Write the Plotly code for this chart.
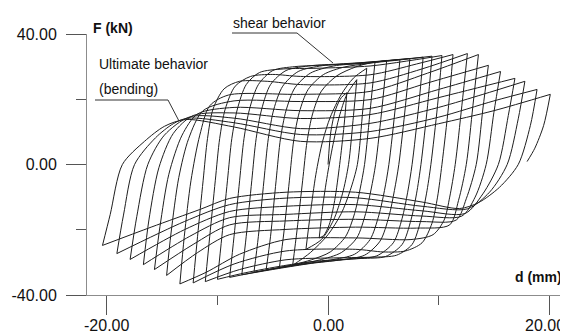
import plotly.graph_objects as go

# ---------------- data (d in mm, F in kN) ----------------
# positive peaks P0..P18 and negative peaks N0..N17 (for reference)
P_d = [1.7, 2.6, 3.5, 4.25, 5.3, 6.5, 7.4, 8.6, 9.4, 10.3, 11.3, 12.6, 13.6, 14.5, 15.6, 16.9, 17.8, 18.9, 20.1]
P_F = [22.0, 26.0, 29.5, 31.6, 31.9, 32.2, 32.5, 32.9, 33.2, 33.4, 33.7, 34.0, 33.7, 30.4, 28.5, 26.4, 25.5, 23.0, 21.5]
N_d = [-0.8, -2.0, -3.2, -4.4, -5.6, -6.7, -7.8, -8.9, -10.0, -11.1, -12.2, -13.4, -14.6, -15.7, -16.7, -17.9, -19.1, -20.4]
N_F = [-22.5, -26.0, -30.9, -31.6, -32.3, -33.0, -33.8, -34.6, -35.2, -35.9, -36.3, -36.6, -34.0, -32.2, -30.7, -29.1, -27.3, -24.8]

# loading branches (towards positive peaks) and unloading branches (towards negative peaks)
U0_d = [0.0, 0.25, 0.7, 1.2, 1.7]
U0_F = [0.0, 10.0, 17.0, 20.5, 22.0]
D0_d = [1.7, 1.45, 1.05, 0.6, 0.1, -0.4, -0.8]
D0_F = [22.0, 12.0, 0.0, -11.0, -18.5, -21.8, -22.5]
U1_d = [-0.8, -0.45, 0.0, 0.5, 1.0, 1.7, 2.6]
U1_F = [-22.5, -12.0, -2.0, 7.0, 14.5, 21.5, 26.0]
D1_d = [2.6, 2.3, 1.85, 1.3, 0.5, -0.6, -2.0]
D1_F = [26.0, 15.0, 0.0, -9.0, -17.0, -23.0, -26.0]
U2_d = [-2.0, -1.6, -1.1, -0.5, 0.2, 1.2, 2.3, 3.5]
U2_F = [-26.0, -15.0, -3.0, 7.0, 14.5, 21.5, 26.5, 29.5]
D2_d = [3.5, 3.15, 2.65, 2.0, 1.2, 0.0, -1.6, -3.2]
D2_F = [29.5, 17.0, 0.0, -8.0, -15.0, -21.5, -27.0, -30.9]
U3_d = [-3.2, -2.8, -2.3, -1.9, -1.4, -0.6, 0.8, 2.5, 4.25]
U3_F = [-30.9, -20.0, -5.0, 7.0, 15.5, 22.5, 27.2, 29.9, 31.6]
D3_d = [4.25, 3.85, 3.3, 2.9, 2.4, 1.6, 0.2, -1.5, -3.0, -4.4]
D3_F = [31.6, 18.0, 0.0, -7.5, -15.0, -22.0, -26.8, -29.2, -30.6, -31.6]
U4_d = [-4.4, -4.0, -3.5, -3.1, -2.6, -1.8, -0.4, 1.5, 3.5, 5.3]
U4_F = [-31.6, -21.0, -5.0, 7.5, 16.0, 23.0, 27.6, 29.9, 30.9, 31.9]
D4_d = [5.3, 4.9, 4.3, 3.9, 3.4, 2.6, 1.2, -0.8, -3.0, -5.6]
D4_F = [31.9, 18.0, 0.0, -7.5, -15.0, -22.5, -27.0, -29.3, -30.7, -32.3]
U5_d = [-5.6, -5.2, -4.7, -4.3, -3.8, -3.0, -1.6, 0.5, 3.0, 6.5]
U5_F = [-32.3, -22.0, -5.0, 8.0, 16.5, 23.5, 28.0, 30.2, 31.0, 32.2]
D5_d = [6.5, 6.1, 5.5, 5.1, 4.6, 3.8, 2.4, 0.2, -2.5, -6.7]
D5_F = [32.2, 18.0, 0.0, -8.0, -15.5, -23.0, -27.5, -29.3, -30.6, -33.0]
U6_d = [-6.7, -6.3, -5.8, -5.4, -4.9, -4.1, -2.7, -0.5, 2.0, 7.4]
U6_F = [-33.0, -22.0, -5.0, 8.0, 17.0, 24.0, 28.5, 30.3, 30.9, 32.5]
D6_d = [7.4, 7.0, 6.4, 6.0, 5.5, 4.7, 3.3, 1.0, -1.5, -4.5, -7.8]
D6_F = [32.5, 18.0, 0.0, -8.0, -16.0, -23.5, -27.8, -29.3, -30.3, -31.9, -33.8]
U7_d = [-7.8, -7.4, -6.9, -6.5, -6.0, -5.2, -3.8, -1.5, 1.0, 5.0, 8.6]
U7_F = [-33.8, -22.0, -5.0, 8.0, 17.0, 24.5, 28.8, 30.3, 30.8, 31.7, 32.9]
D7_d = [8.6, 8.2, 7.6, 7.2, 6.7, 5.9, 4.4, 2.0, -1.0, -5.0, -8.9]
D7_F = [32.9, 18.0, 0.0, -8.5, -16.5, -24.0, -28.0, -29.0, -30.0, -32.0, -34.6]
U8_d = [-8.9, -8.5, -8.0, -7.6, -7.1, -6.3, -5.0, -3.0, 0.0, 4.0, 9.4]
U8_F = [-34.6, -22.0, -5.0, 8.0, 17.0, 24.5, 28.8, 30.0, 30.5, 31.2, 33.2]
D8_d = [9.4, 9.0, 8.4, 8.0, 7.5, 6.7, 5.2, 3.0, -1.0, -4.0, -7.5, -10.0]
D8_F = [33.2, 18.0, 0.0, -9.0, -17.0, -24.5, -28.2, -28.8, -29.6, -31.0, -33.2, -35.2]
U9_d = [-10.0, -9.6, -9.1, -8.7, -8.2, -7.4, -6.2, -4.0, -1.0, 3.8, 7.5, 10.3]
U9_F = [-35.2, -22.0, -5.0, 8.0, 17.0, 24.5, 28.2, 29.3, 29.5, 30.2, 31.9, 33.4]
D9_d = [10.3, 9.9, 9.3, 8.9, 8.4, 7.6, 6.2, 4.0, 1.0, -3.8, -8.0, -11.1]
D9_F = [33.4, 18.0, 0.0, -9.0, -17.0, -24.5, -27.8, -28.4, -28.6, -29.2, -32.2, -35.9]
U10_d = [-11.1, -10.7, -10.2, -9.8, -9.3, -8.4, -7.0, -5.0, -2.5, 3.8, 8.0, 11.3]
U10_F = [-35.9, -22.0, -5.0, 8.0, 17.0, 24.0, 27.0, 27.6, 27.0, 27.5, 30.8, 33.7]
D10_d = [11.3, 10.9, 10.3, 9.9, 9.4, 8.5, 7.0, 5.0, 2.5, -3.8, -8.5, -12.2]
D10_F = [33.7, 18.0, 0.0, -10.0, -18.0, -24.0, -26.5, -26.8, -26.0, -26.5, -30.5, -36.3]
U11_d = [-12.2, -11.8, -11.3, -10.9, -10.4, -9.4, -8.0, -5.5, -2.5, 3.8, 8.5, 12.6]
U11_F = [-36.3, -22.0, -5.0, 8.0, 17.0, 23.2, 25.5, 25.5, 24.5, 25.0, 29.3, 34.0]
D11_d = [12.6, 12.1, 11.5, 11.0, 10.5, 9.5, 7.5, 2.5, -3.8, -8.0, -11.0, -13.4]
D11_F = [34.0, 18.0, 0.0, -10.0, -17.0, -21.5, -23.0, -22.5, -23.0, -27.5, -33.0, -36.6]
U12_d = [-13.4, -13.0, -12.4, -11.6, -10.7, -9.0, -2.5, 3.8, 9.0, 13.6]
U12_F = [-36.6, -22.0, -5.0, 9.0, 18.0, 21.3, 21.5, 22.4, 28.0, 33.7]
D12_d = [13.6, 13.1, 12.5, 11.8, 11.0, 8.0, 2.5, -3.8, -8.9, -11.8, -14.6]
D12_F = [33.7, 18.0, 0.0, -11.0, -18.5, -19.5, -19.2, -19.9, -21.5, -27.0, -34.0]
U13_d = [-14.6, -14.2, -13.5, -12.6, -11.3, -8.5, -2.5, 3.8, 9.0, 14.5]
U13_F = [-34.0, -21.0, -4.0, 8.0, 16.5, 19.5, 19.3, 19.9, 25.0, 30.4]
D13_d = [14.5, 14.0, 13.4, 12.5, 11.6, 8.5, 2.5, -3.8, -8.9, -12.2, -15.7]
D13_F = [30.4, 17.0, 0.0, -10.5, -17.0, -17.5, -16.8, -17.3, -18.5, -24.5, -32.2]
U14_d = [-15.7, -15.2, -14.4, -13.2, -11.8, -8.5, -2.5, 3.8, 10.0, 15.6]
U14_F = [-32.2, -19.0, -3.0, 9.0, 15.5, 17.5, 16.5, 17.2, 23.0, 28.5]
D14_d = [15.6, 15.0, 14.3, 13.3, 12.1, 8.5, 2.5, -3.8, -8.9, -12.5, -16.7]
D14_F = [28.5, 16.0, 0.0, -10.0, -15.8, -15.8, -14.5, -15.3, -16.3, -22.0, -30.7]
U15_d = [-16.7, -16.2, -15.3, -14.0, -12.2, -8.5, -2.5, 3.8, 10.0, 16.9]
U15_F = [-30.7, -17.0, -1.0, 9.5, 15.0, 15.8, 14.1, 15.3, 20.5, 26.4]
D15_d = [16.9, 16.3, 15.4, 14.0, 12.4, 8.5, 2.5, -3.8, -8.9, -13.0, -17.9]
D15_F = [26.4, 15.0, 0.0, -9.0, -15.0, -14.2, -12.3, -12.8, -14.4, -20.0, -29.1]
U16_d = [-17.9, -17.3, -16.3, -14.8, -12.5, -8.5, -2.5, 3.8, 10.0, 14.0, 17.8]
U16_F = [-29.1, -16.0, 0.0, 9.0, 14.6, 14.2, 11.0, 12.6, 17.5, 21.5, 25.5]
D16_d = [17.8, 17.2, 16.2, 14.6, 12.6, 8.5, 2.5, -3.8, -8.9, -13.0, -19.1]
D16_F = [25.5, 14.0, 0.0, -8.5, -13.6, -12.8, -10.2, -10.3, -12.3, -17.5, -27.3]
U17_d = [-19.1, -18.5, -17.5, -15.6, -14.0, -12.7, -8.5, -2.5, 3.8, 10.0, 15.0, 18.9]
U17_F = [-27.3, -15.5, 0.0, 8.2, 12.5, 14.2, 12.8, 9.2, 10.1, 14.5, 19.5, 23.0]
D17_d = [18.9, 18.3, 17.2, 15.5, 13.6, 11.9, 8.5, 2.5, -3.8, -8.9, -11.6, -16.0, -20.4]
D17_F = [23.0, 12.0, 0.0, -7.0, -11.7, -13.5, -11.5, -8.5, -8.5, -10.4, -13.8, -19.2, -24.8]
U18_d = [-20.4, -19.7, -18.6, -16.6, -14.8, -12.9, -8.5, -2.5, 3.8, 10.0, 15.0, 20.1]
U18_F = [-24.8, -15.3, 0.0, 7.1, 11.7, 13.8, 11.5, 7.1, 8.0, 12.5, 16.5, 21.5]
D18_d = [20.1, 19.5, 18.7, 18.0]
D18_F = [21.5, 12.0, 5.0, 0.9]

branches = [
    (U0_d, U0_F), (D0_d, D0_F), (U1_d, U1_F), (D1_d, D1_F), (U2_d, U2_F), (D2_d, D2_F),
    (U3_d, U3_F), (D3_d, D3_F), (U4_d, U4_F), (D4_d, D4_F), (U5_d, U5_F), (D5_d, D5_F),
    (U6_d, U6_F), (D6_d, D6_F), (U7_d, U7_F), (D7_d, D7_F), (U8_d, U8_F), (D8_d, D8_F),
    (U9_d, U9_F), (D9_d, D9_F), (U10_d, U10_F), (D10_d, D10_F), (U11_d, U11_F), (D11_d, D11_F),
    (U12_d, U12_F), (D12_d, D12_F), (U13_d, U13_F), (D13_d, D13_F), (U14_d, U14_F), (D14_d, D14_F),
    (U15_d, U15_F), (D15_d, D15_F), (U16_d, U16_F), (D16_d, D16_F), (U17_d, U17_F), (D17_d, D17_F),
    (U18_d, U18_F), (D18_d, D18_F),
]

x_ticks = [-20, 0, 20]
x_ticktext = ["-20.00", "0.00", "20.00"]
x_minor = [-10, 10]
y_ticks = [-40, 0, 40]
y_ticktext = ["-40.00", "0.00", "40.00"]
y_minor = [-20, 20]

# ---------------- figure ----------------
xs, ys = [], []
for d, F in branches:
    xs += list(d) + [None]
    ys += list(F) + [None]

fig = go.Figure()
fig.add_trace(go.Scatter(
    x=xs, y=ys, mode="lines", connectgaps=False, hoverinfo="skip", showlegend=False,
    line=dict(color="#1e1e1e", width=1, shape="spline", smoothing=0.8),
))

# the page body adds an 8 px margin, so the figure is 8 px smaller and all
# reference pixel positions are shifted by -8
OFF = 8
W, H = 568 - OFF, 336 - OFF
L, R, T, B = 87 - OFF, 0, 34 - OFF, 41
pw, ph = W - L - R, H - T - B
X_RANGE = [-21.8, 21.7]

def px(x):
    return (x - OFF - L) / pw

def py(y):
    return (H - B - (y - OFF)) / ph

axis_font = dict(family="Liberation Sans, Arial, sans-serif", size=16, color="#111111")
fig.update_layout(
    width=W, height=H, margin=dict(l=L, r=R, t=T, b=B, autoexpand=False),
    paper_bgcolor="white", plot_bgcolor="white",
    xaxis=dict(range=X_RANGE, automargin=False, showgrid=False, zeroline=False,
               showline=True, linecolor="#8c8c8c", linewidth=1, ticks="outside",
               ticklen=19, tickcolor="#555555", tickwidth=1, tickmode="array",
               tickvals=x_ticks, showticklabels=False,
               minor=dict(tickmode="array", tickvals=x_minor, ticks="outside",
                          ticklen=9, tickcolor="#555555", showgrid=False)),
    yaxis=dict(range=[-40, 40], automargin=False, showgrid=False, zeroline=False,
               showline=True, linecolor="#8c8c8c", linewidth=1, ticks="outside",
               ticklen=20, tickcolor="#555555", tickwidth=1, tickmode="array",
               tickvals=y_ticks, ticktext=y_ticktext, tickfont=axis_font,
               ticklabelstandoff=6, ticklabeloverflow="allow",
               minor=dict(tickmode="array", tickvals=y_minor, ticks="outside",
                          ticklen=10, tickcolor="#555555", showgrid=False)),
)

# x tick labels (placed as text so the last one stays inside the page, as in the original)
for v, t in zip(x_ticks, x_ticktext):
    xp = (v - X_RANGE[0]) / (X_RANGE[1] - X_RANGE[0])
    anchor = "center"
    if v == x_ticks[-1]:
        xp, anchor = px(567), "right"
    fig.add_annotation(text=t, x=xp, y=py(325), xref="paper", yref="paper",
                       xanchor=anchor, yanchor="middle", showarrow=False, font=axis_font)

txt_font = "Liberation Sans, Arial, sans-serif"
ann = [
    dict(text="<b>F (kN)</b>", x=px(91), y=py(28), xanchor="left", yanchor="middle", size=14),
    dict(text="Ultimate behavior", x=px(97), y=py(64), xanchor="left", yanchor="middle", size=14),
    dict(text="(bending)", x=px(97), y=py(89), xanchor="left", yanchor="middle", size=14),
    dict(text="shear behavior", x=px(231), y=py(23), xanchor="left", yanchor="middle", size=14),
    dict(text="<b>d (mm)</b>", x=px(564), y=py(277), xanchor="right", yanchor="middle", size=14),
]
for a in ann:
    fig.add_annotation(text=a["text"], x=a["x"], y=a["y"], xref="paper", yref="paper",
                       xanchor=a["xanchor"], yanchor=a["yanchor"], showarrow=False,
                       font=dict(family=txt_font, size=a["size"], color="#111111"))

leaders = [
    [(95, 100), (168, 100), (179, 121)],
    [(232, 33), (297, 33), (333, 63)],
]
for pts in leaders:
    for (x0, y0), (x1, y1) in zip(pts[:-1], pts[1:]):
        fig.add_shape(type="line", xref="paper", yref="paper",
                      x0=px(x0), y0=py(y0), x1=px(x1), y1=py(y1),
                      line=dict(color="#333333", width=1))

fig.write_html("out.html")
